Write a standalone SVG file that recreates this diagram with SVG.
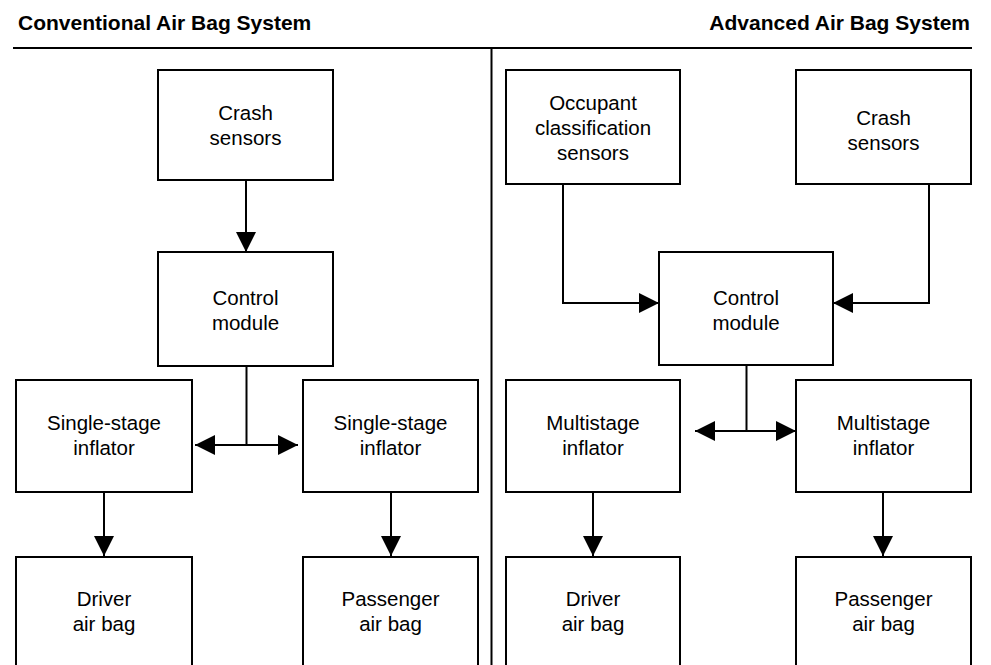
<svg xmlns="http://www.w3.org/2000/svg" width="991" height="665" viewBox="0 0 991 665">
<defs>
<marker id="ah" viewBox="0 0 20 20" refX="20" refY="10" markerWidth="20" markerHeight="20" markerUnits="userSpaceOnUse" orient="auto-start-reverse">
<path d="M0,0 L20,10 L0,20 Z" fill="#000"/>
</marker>
<style>
.box{fill:#fff;stroke:#000;stroke-width:2}
.t{font-family:"Liberation Sans",Arial,sans-serif;font-size:20.5px;fill:#000;text-anchor:middle}
.h{font-family:"Liberation Sans",Arial,sans-serif;font-size:21px;font-weight:bold;fill:#000}
.c{fill:none;stroke:#000;stroke-width:2}
</style>
</defs>
<rect width="991" height="665" fill="#fff"/>
<g id="headers">
<text class="h" x="18" y="30">Conventional Air Bag System</text>
<text class="h" x="970" y="30" text-anchor="end">Advanced Air Bag System</text>
<line x1="13" y1="48" x2="972" y2="48" stroke="#000" stroke-width="2"/>
<line x1="491.5" y1="48" x2="491.5" y2="665" stroke="#000" stroke-width="2"/>
</g>
<g id="connectors">
<path class="c" d="M246,180 V252" marker-end="url(#ah)"/>
<path class="c" d="M246.5,366 V445"/>
<path class="c" d="M195,445 H298" marker-start="url(#ah)" marker-end="url(#ah)"/>
<path class="c" d="M104,492 V556" marker-end="url(#ah)"/>
<path class="c" d="M391,492 V556" marker-end="url(#ah)"/>
<path class="c" d="M563,184 V303 H659" marker-end="url(#ah)"/>
<path class="c" d="M929,184 V303 H833" marker-end="url(#ah)"/>
<path class="c" d="M746.5,365 V431"/>
<path class="c" d="M695,431 H796" marker-start="url(#ah)" marker-end="url(#ah)"/>
<path class="c" d="M593,492 V556" marker-end="url(#ah)"/>
<path class="c" d="M883,492 V556" marker-end="url(#ah)"/>
</g>
<g id="conv-crash"><rect class="box" x="158" y="70" width="175" height="110"/><text class="t" x="245.5" y="120">Crash</text><text class="t" x="245.5" y="145">sensors</text></g>
<g id="conv-control"><rect class="box" x="158" y="252" width="175" height="114"/><text class="t" x="245.5" y="305">Control</text><text class="t" x="245.5" y="330">module</text></g>
<g id="conv-inflator-left"><rect class="box" x="16" y="380" width="176" height="112"/><text class="t" x="104" y="430">Single-stage</text><text class="t" x="104" y="455">inflator</text></g>
<g id="conv-inflator-right"><rect class="box" x="303" y="380" width="175" height="112"/><text class="t" x="390.5" y="430">Single-stage</text><text class="t" x="390.5" y="455">inflator</text></g>
<g id="conv-driver"><rect class="box" x="16" y="557" width="176" height="130"/><text class="t" x="104" y="606">Driver</text><text class="t" x="104" y="631">air bag</text></g>
<g id="conv-passenger"><rect class="box" x="303" y="557" width="175" height="130"/><text class="t" x="390.5" y="606">Passenger</text><text class="t" x="390.5" y="631">air bag</text></g>
<g id="adv-occupant"><rect class="box" x="506" y="70" width="174" height="114"/><text class="t" x="593" y="110">Occupant</text><text class="t" x="593" y="135">classification</text><text class="t" x="593" y="160">sensors</text></g>
<g id="adv-crash"><rect class="box" x="796" y="70" width="175" height="114"/><text class="t" x="883.5" y="125">Crash</text><text class="t" x="883.5" y="150">sensors</text></g>
<g id="adv-control"><rect class="box" x="659" y="252" width="174" height="113"/><text class="t" x="746" y="305">Control</text><text class="t" x="746" y="330">module</text></g>
<g id="adv-inflator-left"><rect class="box" x="506" y="380" width="174" height="112"/><text class="t" x="593" y="430">Multistage</text><text class="t" x="593" y="455">inflator</text></g>
<g id="adv-inflator-right"><rect class="box" x="796" y="380" width="175" height="112"/><text class="t" x="883.5" y="430">Multistage</text><text class="t" x="883.5" y="455">inflator</text></g>
<g id="adv-driver"><rect class="box" x="506" y="557" width="174" height="130"/><text class="t" x="593" y="606">Driver</text><text class="t" x="593" y="631">air bag</text></g>
<g id="adv-passenger"><rect class="box" x="796" y="557" width="175" height="130"/><text class="t" x="883.5" y="606">Passenger</text><text class="t" x="883.5" y="631">air bag</text></g>
</svg>
